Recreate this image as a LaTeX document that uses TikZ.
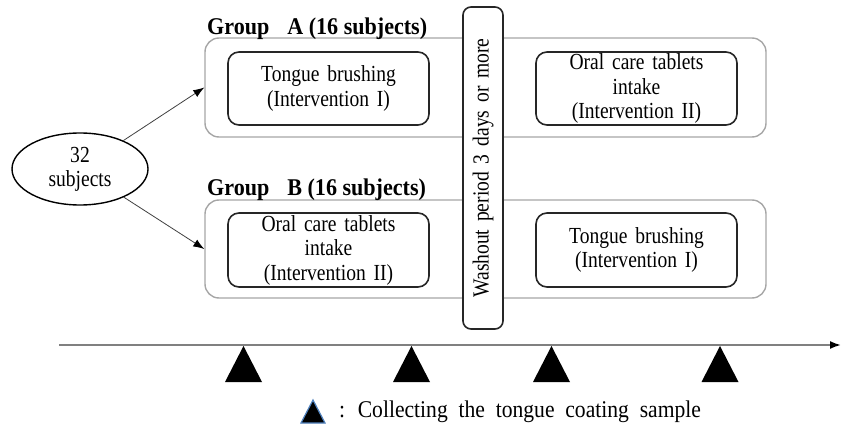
\documentclass[tikz,border=0pt]{standalone}
\usepackage{fontspec}
\setmainfont[FakeStretch=0.85,WordSpace=1.6]{Liberation Serif}
\newfontfamily\titlefont[FakeStretch=0.92]{Liberation Serif}
\newfontfamily\legendfont[FakeStretch=0.9,WordSpace=2]{Liberation Serif}
\usetikzlibrary{arrows.meta,shapes.geometric}
\begin{document}
\begin{tikzpicture}[x=1pt,y=-1pt,
  groupbox/.style={draw=black!35,line width=1.4pt,rounded corners=14pt,inner sep=0pt},
  interbox/.style={draw=black!85,line width=1.6pt,rounded corners=11pt,fill=white,inner sep=0pt,
     minimum width=201pt,align=center,font=\fontsize{23}{24.5}\selectfont},
  washbox/.style={draw=black!85,line width=1.6pt,rounded corners=8pt,fill=white,inner sep=0pt,
     minimum width=40pt,minimum height=322pt},
  grouptitle/.style={font=\fontsize{24}{26}\titlefont\bfseries,inner sep=0pt,anchor=base west},
  bodytext/.style={font=\fontsize{23}{24}\selectfont},
  arr/.style={draw=black!75,line width=0.8pt,-{Latex[length=11pt,width=8pt,color=black]}},
  tri/.style={fill=black},
]
\useasboundingbox (0,0) rectangle (844,428);
% groups
\node[groupbox,minimum width=561pt,minimum height=99pt] (gA) at (485.5,87.5) {};
\node[groupbox,minimum width=561pt,minimum height=98pt] (gB) at (485.5,249) {};
\node[grouptitle] (tA) at (207,35) {Group\hspace{18pt}A (16 subjects)};
\node[grouptitle] (tB) at (207,195) {Group\hspace{18pt}B (16 subjects)};
% washout
\node[washbox] (wash) at (483,168) {};
\node[bodytext,rotate=90,inner sep=0pt] (washt) at (wash.center) {Washout period 3 days or more};
% interventions
\node[interbox,minimum height=73pt] (a1) at (328.5,88.5) {Tongue brushing\\(Intervention I)};
\node[interbox,minimum height=73pt] (a2) at (636.5,88.5) {Oral care tablets\\intake\\(Intervention II)};
\node[interbox,minimum height=74pt] (b1) at (328.5,250) {Oral care tablets\\intake\\(Intervention II)};
\node[interbox,minimum height=74pt] (b2) at (636.5,250) {Tongue brushing\\(Intervention I)};
% subjects
\node[ellipse,draw=black,line width=1.4pt,minimum width=136pt,minimum height=72pt,inner sep=0pt,
      align=center,bodytext] (ell) at (80,169) {32\\subjects};
\draw[arr] (ell) -- (gA.west);
\draw[arr] (ell) -- (gB.west);
% timeline
\coordinate (t0) at (59,345);
\coordinate (t1) at (841,345);
\draw[draw=black!50,line width=1.8pt,-{Latex[length=11pt,width=8pt,color=black]}] (t0) -- (t1);
\foreach \cx in {243.5,411.5,551.5,720}{
  \fill[tri] (\cx-18.5,382) -- (\cx,346) -- (\cx+18.5,382) -- cycle;
}
% legend
\filldraw[fill=black,draw={rgb,255:red,80;green,130;blue,190},line width=1.2pt,line join=miter] (301,423) -- (313,400) -- (325,423) -- cycle;
\node[font=\fontsize{24}{26}\legendfont,inner sep=0pt,anchor=base west] (leg) at (339,417) {: Collecting the tongue coating sample};
\end{tikzpicture}
\end{document}
